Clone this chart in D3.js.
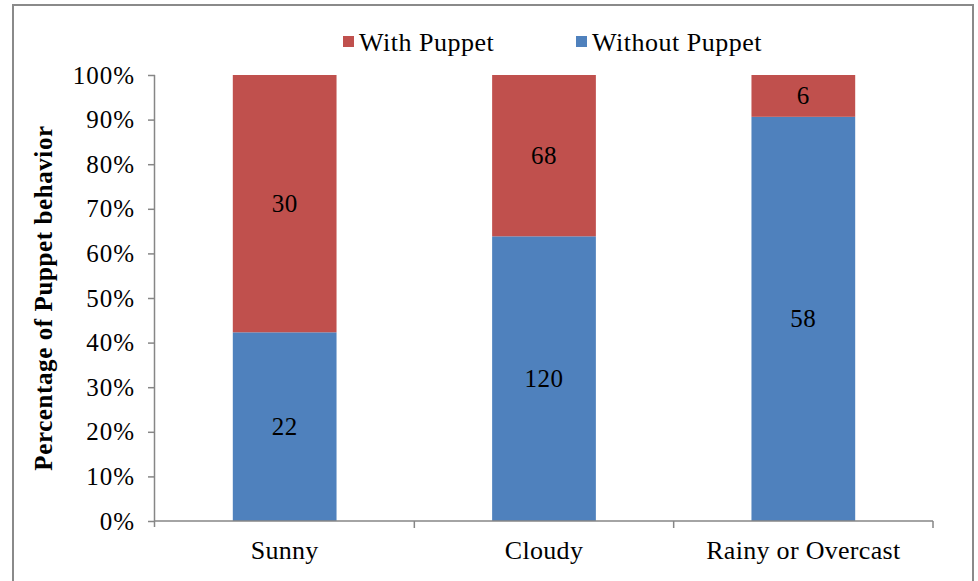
<!DOCTYPE html>
<html><head><meta charset="utf-8">
<script src="https://cdn.jsdelivr.net/npm/d3@7"></script>
<style>body{margin:0;background:#fff;} svg text{font-family:"Liberation Serif","Times New Roman",serif !important;}</style>
</head><body>
<svg id="c" width="978" height="581"></svg>
<script>
const categories = ["Sunny", "Cloudy", "Rainy or Overcast"];
const withoutPuppet = [22, 120, 58];
const withPuppet = [30, 68, 6];
const seriesNames = ["With Puppet", "Without Puppet"];
const yTicks = [0, 0.1, 0.2, 0.3, 0.4, 0.5, 0.6, 0.7, 0.8, 0.9, 1.0];

(function () {
const FONT = "Liberation Serif, Times New Roman, serif";
const svg = d3.select("#c");
const colors = {"With Puppet": "#C0504D", "Without Puppet": "#4F81BD"};
const axisColor = "#868686";

svg.append("rect").attr("x", 13).attr("y", 5).attr("width", 960).attr("height", 600)
  .attr("fill", "none").attr("stroke", "#8a8a8a").attr("stroke-width", 2);

const pL = 155, pR = 933, pT = 75, pB = 521;
const x = d3.scaleBand().domain(categories).range([pL, pR]).paddingInner(0.6).paddingOuter(0.3);
const y = d3.scaleLinear().domain([0, 1]).range([pB, pT]);

const data = categories.map((c, i) => {
  const tot = withoutPuppet[i] + withPuppet[i];
  return {cat: c, wo: withoutPuppet[i], w: withPuppet[i], woF: withoutPuppet[i] / tot};
});

const g = svg.append("g");
g.selectAll("rect.wo").data(data).enter().append("rect")
  .attr("x", d => x(d.cat)).attr("width", x.bandwidth())
  .attr("y", d => y(d.woF)).attr("height", d => y(0) - y(d.woF))
  .attr("fill", colors["Without Puppet"]);
g.selectAll("rect.w").data(data).enter().append("rect")
  .attr("x", d => x(d.cat)).attr("width", x.bandwidth())
  .attr("y", d => y(1)).attr("height", d => y(d.woF) - y(1))
  .attr("fill", colors["With Puppet"]);

g.selectAll("text.wo").data(data).enter().append("text")
  .attr("x", d => x(d.cat) + x.bandwidth() / 2).attr("y", d => y(d.woF / 2))
  .attr("text-anchor", "middle").attr("dominant-baseline", "central")
  .attr("font-family", FONT).attr("font-size", 25).attr("letter-spacing", 0.5).attr("fill", "#000").text(d => d.wo);
g.selectAll("text.w").data(data).enter().append("text")
  .attr("x", d => x(d.cat) + x.bandwidth() / 2).attr("y", d => y((d.woF + 1) / 2))
  .attr("text-anchor", "middle").attr("dominant-baseline", "central")
  .attr("font-family", FONT).attr("font-size", 25).attr("letter-spacing", 0.5).attr("fill", "#000").text(d => d.w);

const yAxis = svg.append("g").attr("transform", `translate(${pL},0)`)
  .call(d3.axisLeft(y).tickValues(yTicks).tickFormat(d3.format(".0%")).tickSize(7).tickPadding(13));
yAxis.attr("font-family", FONT);
yAxis.select(".domain").attr("stroke", axisColor).attr("stroke-width", 1.5).attr("d", `M-0.5,${pT}V${pB + 6}`);
yAxis.selectAll(".tick line").attr("stroke", axisColor).attr("stroke-width", 1.5);
yAxis.selectAll(".tick text").attr("font-size", 25).attr("letter-spacing", 1).attr("fill", "#000").attr("font-family", FONT);

const xAxisG = svg.append("g");
xAxisG.append("line").attr("x1", pL).attr("x2", pR).attr("y1", pB).attr("y2", pB)
  .attr("stroke", axisColor).attr("stroke-width", 1.5);
const boundaries = categories.map(c => x(c) - x.step() * x.paddingInner() / 2).concat([pR]);
xAxisG.selectAll("line.t").data(boundaries.slice(1)).enter().append("line")
  .attr("x1", d => d).attr("x2", d => d).attr("y1", pB).attr("y2", pB + 7)
  .attr("stroke", axisColor).attr("stroke-width", 1.5);
xAxisG.selectAll("text").data(categories).enter().append("text")
  .attr("x", d => x(d) + x.bandwidth() / 2).attr("y", 559)
  .attr("text-anchor", "middle").attr("font-family", FONT).attr("font-size", 26).attr("letter-spacing", 0.3)
  .attr("fill", "#000").text(d => d);

svg.append("text").attr("transform", `translate(52,${(pT + pB) / 2}) rotate(-90)`)
  .attr("text-anchor", "middle").attr("font-family", FONT).attr("font-size", 25).attr("letter-spacing", 0.6)
  .attr("font-weight", "bold").attr("fill", "#000").text("Percentage of Puppet behavior");

const legendPos = [{name: seriesNames[0], x: 343}, {name: seriesNames[1], x: 576}];
const lg = svg.selectAll("g.leg").data(legendPos).enter().append("g")
  .attr("transform", d => `translate(${d.x},42)`);
lg.append("rect").attr("x", 0).attr("y", -6).attr("width", 11).attr("height", 11)
  .attr("fill", d => colors[d.name]);
lg.append("text").attr("x", 16).attr("y", 0).attr("dominant-baseline", "central")
  .attr("font-family", FONT).attr("font-size", 26).attr("letter-spacing", 0.5)
  .attr("fill", "#000").text(d => d.name);
})();
</script>
</body></html>
